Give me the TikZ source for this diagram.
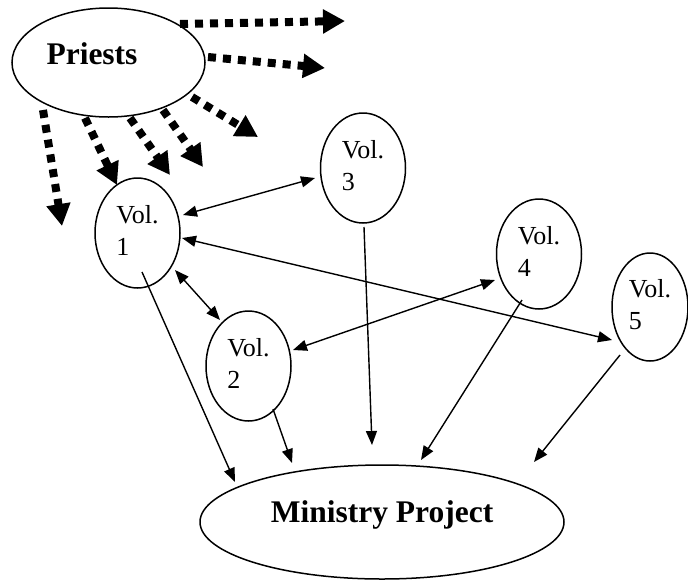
\documentclass[tikz,border=0pt]{standalone}
\usepackage{fontspec}
\setmainfont{Liberation Serif}
\usetikzlibrary{arrows.meta,shapes.geometric,calc}
\newcommand{\lowpad}{\rule[-5pt]{0pt}{5pt}}
\begin{document}
\begin{tikzpicture}[x=1pt,y=-1pt,
  blob/.style={draw,ellipse,line width=1.5pt,inner sep=0pt},
  vol/.style={blob,minimum width=85pt,minimum height=110pt,align=left,font=\fontsize{26}{32}\selectfont},
  big/.style={font=\fontsize{31.5}{38}\selectfont\bfseries,anchor=base,inner sep=0pt},
  link/.style={line width=1.4pt,-{Triangle[length=14pt,width=11pt]}},
  both/.style={line width=1.4pt,{Triangle[length=14pt,width=11pt]}-{Triangle[length=14pt,width=11pt]}},
  dots/.style={line width=8pt,dash pattern=on 8pt off 7pt,-{Triangle[length=22pt,width=23pt]}}]
\useasboundingbox (0,0) rectangle (688,582);
% nodes
\node[blob,minimum width=193pt,minimum height=109pt] (pr) at (108.5,62.5) {};
\node[big] (prt) at (92,64) {Priests};
\node[vol] (v1) at (137.5,233) {Vol.\\1\lowpad};
\node[vol] (v2) at (248.5,366) {Vol.\\2\lowpad};
\node[vol] (v3) at (363,168) {Vol.\\3\lowpad};
\node[vol] (v4) at (539,254) {Vol.\\4\lowpad};
\node[vol,minimum width=76pt,minimum height=108pt] (v5) at (650,307) {Vol.\\5\lowpad};
\node[blob,minimum width=364pt,minimum height=114pt] (mp) at (382,522) {};
\node[big] (mpt) at (382,522) {Ministry Project};
% dotted arrows from Priests
\draw[dots] ($(pr)+(71.5,-38.5)$) -- ($(pr)+(236.5,-41.5)$);
\draw[dots] ($(pr)+(99.5,-5.5)$) -- ($(pr)+(216.5,5.5)$);
\draw[dots] ($(pr)+(83.5,34.5)$) -- ($(pr)+(149.5,74.5)$);
\draw[dots] ($(pr)+(54.5,47.5)$) -- ($(pr)+(94.5,104.5)$);
\draw[dots] ($(pr)+(21.5,55.5)$) -- ($(pr)+(61.5,112.5)$);
\draw[dots] ($(pr)+(-23.5,55.5)$) -- ($(pr)+(8.5,122.5)$);
\draw[dots] ($(pr)+(-65.5,47.5)$) -- ($(pr)+(-46.5,163.5)$);
% links between volunteers
\draw[both] ($(v1)+(45.5,-18)$) -- ($(v3)+(-48,10)$);
\draw[both] ($(v1)+(44.5,5)$) -- ($(v5)+(-38,33)$);
\draw[both] ($(v1)+(37.5,37)$) -- ($(v2)+(-28.5,-46)$);
\draw[both] ($(v2)+(44.5,-16)$) -- ($(v4)+(-44,26)$);
% links to the project
\draw[link] ($(v1)+(4.5,39)$) -- ($(mp)+(-147,-40)$);
\draw[link] ($(v2)+(24.5,43)$) -- ($(mp)+(-90,-59)$);
\draw[link] ($(v3)+(1,59)$) -- ($(mp)+(-10,-77)$);
\draw[link] ($(v4)+(-17,46)$) -- ($(mp)+(39,-62)$);
\draw[link] ($(v5)+(-30,48)$) -- ($(mp)+(152,-60)$);
\end{tikzpicture}
\end{document}
